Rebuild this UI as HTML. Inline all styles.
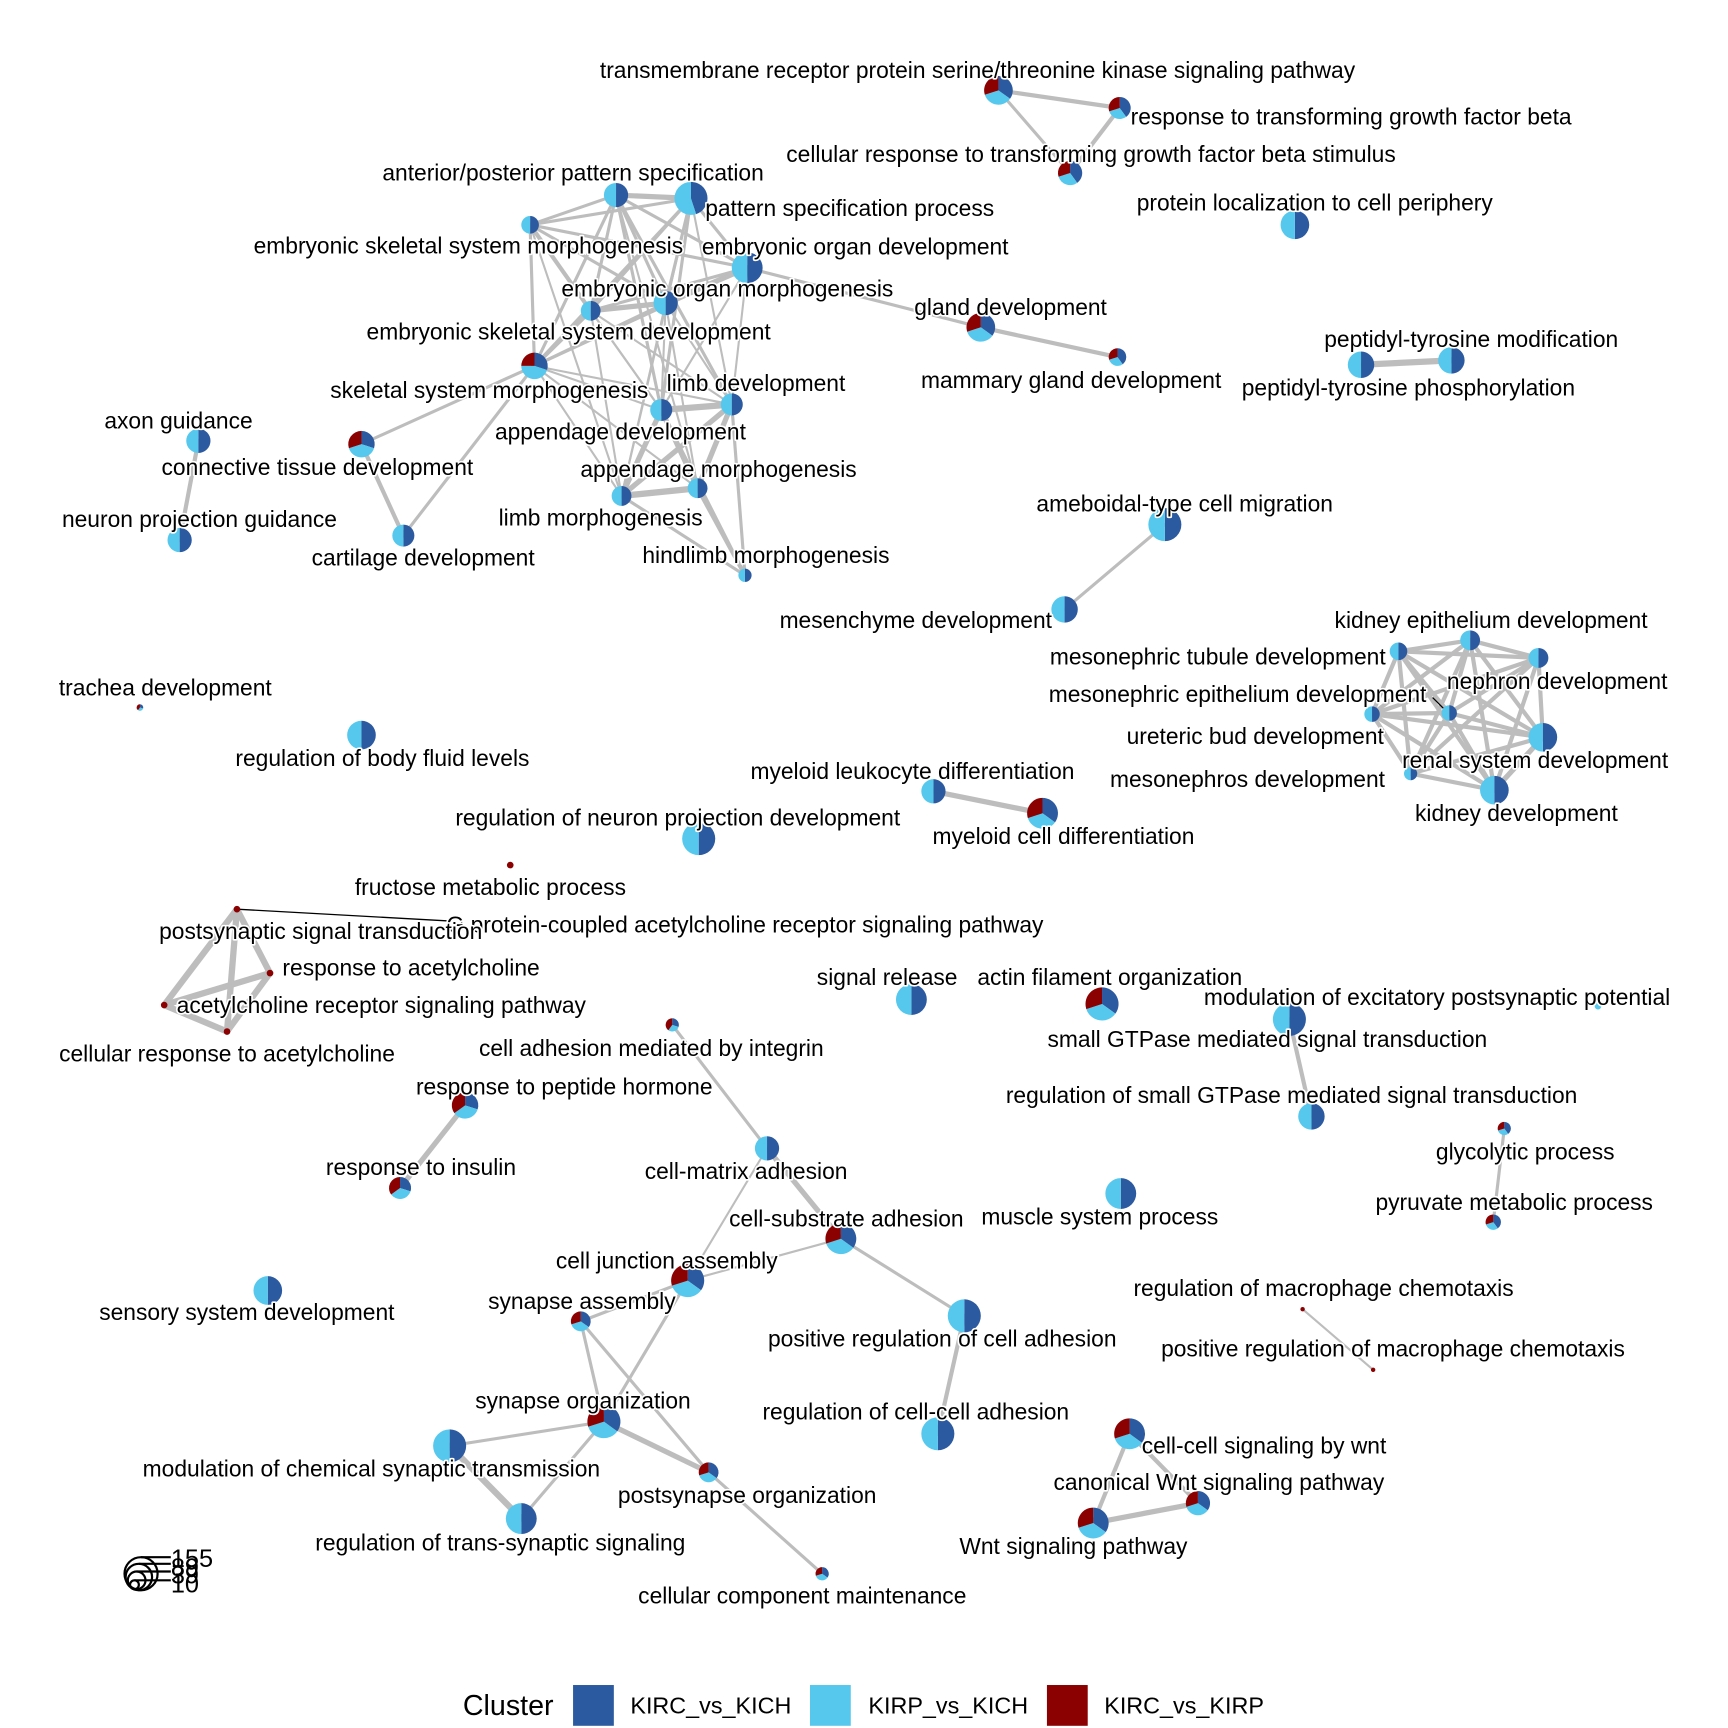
<!DOCTYPE html>
<html><head><meta charset="utf-8"><style>
html,body{margin:0;padding:0;background:#fff;width:1728px;height:1728px;overflow:hidden}
svg text{font-family:"Liberation Sans",sans-serif;font-size:20.7px;fill:#000}
.l{paint-order:stroke;stroke:#fff;stroke-width:3px;stroke-linejoin:round}
</style></head><body>
<svg id="s" width="1728" height="1728" viewBox="0 0 1568 1568" xmlns="http://www.w3.org/2000/svg">
<g id="edges" stroke="#bdbdbd" stroke-linecap="round"></g>
<g id="nodes"></g>
<g id="labels"></g>
<g>
<text x="420" y="1556" style="font-size:26px">Cluster</text>
<rect x="520" y="1529" width="37" height="37" fill="#2C5AA0"/>
<text x="572" y="1555" style="font-size:21.2px">KIRC_vs_KICH</text>
<rect x="735" y="1529" width="37" height="37" fill="#56C8ED"/>
<text x="788" y="1555" style="font-size:21.2px">KIRP_vs_KICH</text>
<rect x="950" y="1529" width="37" height="37" fill="#8B0000"/>
<text x="1002" y="1555" style="font-size:21.2px">KIRC_vs_KIRP</text>
<g fill="none" stroke="#000" stroke-width="2">
<circle cx="128" cy="1428" r="15"/><circle cx="126" cy="1431" r="12"/><circle cx="124" cy="1434" r="8"/><circle cx="122" cy="1438" r="4"/>
<line x1="128" y1="1413" x2="155" y2="1413"/><line x1="126" y1="1419" x2="155" y2="1419"/><line x1="124" y1="1426" x2="155" y2="1426"/><line x1="122" y1="1434" x2="155" y2="1434"/>
</g>
<text x="155" y="1422" style="font-size:23px">155</text>
<text x="155" y="1430" style="font-size:23px">89</text>
<text x="155" y="1437" style="font-size:23px">39</text>
<text x="155" y="1445" style="font-size:23px">10</text>
</g>
</svg>
<script>
var C=["#2C5AA0","#56C8ED","#8B0000"];
var N={
tm:[906,82,13,[.35,.35,.3]],tgf:[1016,98,10,[.4,.3,.3]],ctgf:[971,157,11,[.4,.3,.3]],
plc:[1175,204,13,[.5,.5,0]],ap:[559,177,11,[.5,.5,0]],ps:[627,180,15,[.45,.55,0]],
esm:[481,204,8,[.5,.5,0]],eod:[678,243,14,[.5,.5,0]],eom:[604,275,11,[.5,.5,0]],
esd:[536,282,9,[.5,.5,0]],ssm:[485,332,12,[.3,.45,.25]],ld:[664,367,10,[.5,.5,0]],
ad:[600,372,10,[.5,.5,0]],am:[633,443,9,[.5,.5,0]],lm:[564,450,9,[.5,.5,0]],hm:[676,522,6,[.5,.5,0]],
gd:[890,297,13,[.35,.35,.3]],mgd:[1014,324,8,[.4,.3,.3]],ptm:[1235,331,12,[.5,.5,0]],ptp:[1317,327,12,[.5,.5,0]],
ax:[180,400,11,[.5,.5,0]],npg:[163,490,11,[.5,.5,0]],ctd:[328,403,12,[.3,.4,.3]],cd:[366,486,10,[.5,.5,0]],
amb:[1057,476,15,[.5,.5,0]],mes:[966,553,12,[.5,.5,0]],
ked:[1334,581,9,[.5,.5,0]],mtd:[1269,591,8,[.5,.5,0]],nd:[1396,597,9,[.5,.5,0]],med:[1315,647,7,[.5,.5,0]],
ubd:[1245,648,7,[.5,.5,0]],rsd:[1400,669,13,[.5,.5,0]],mnd:[1280,702,6,[.5,.5,0]],kd:[1356,717,13,[.5,.5,0]],
tra:[127,642,3,[.3,.3,.4]],bfl:[328,667,13,[.5,.5,0]],mld:[847,718,11,[.5,.5,0]],mcd:[946,738,14,[.35,.35,.3]],
rnp:[634,761,15,[.5,.5,0]],fru:[463,785,3,[0,0,1]],
pst:[215,825,3,[0,0,1]],rac:[245,883,3,[0,0,1]],arsp:[149,912,3,[0,0,1]],crac:[206,936,3,[0,0,1]],
sr:[827,907,14,[.5,.5,0]],afo:[1000,911,15,[.35,.35,.3]],sgt:[1170,925,15,[.5,.5,0]],rsg:[1190,1013,12,[.5,.5,0]],
mex:[1450,913,3,[0,1,0]],cai:[610,930,6,[.3,.3,.4]],rph:[422,1003,12,[.3,.35,.35]],ri:[363,1078,10,[.3,.35,.35]],
cma:[696,1042,11,[.5,.5,0]],gly:[1365,1024,6,[.4,.3,.3]],pyr:[1355,1109,7,[.4,.3,.3]],msp:[1017,1083,14,[.5,.5,0]],
csa:[763,1124,14,[.35,.35,.3]],cja:[624,1162,15,[.35,.35,.3]],ssd:[243,1171,13,[.5,.5,0]],sa:[527,1199,9,[.35,.35,.3]],
prca:[875,1194,15,[.5,.5,0]],rmc:[1182,1188,2,[0,0,1]],prmc:[1246,1243,2,[0,0,1]],so:[548,1290,15,[.35,.35,.3]],
rcca:[851,1301,15,[.5,.5,0]],ccw:[1025,1301,14,[.35,.35,.3]],cwnt:[1087,1364,11,[.35,.35,.3]],wnt:[992,1382,14,[.35,.35,.3]],
mcst:[408,1312,15,[.5,.5,0]],pso:[643,1336,9,[.35,.35,.3]],rts:[473,1378,14,[.5,.5,0]],ccm:[746,1428,6,[.35,.35,.3]]
};
var E=[["tm","tgf",4],["tm","ctgf",3],["tgf","ctgf",4],
["ap","ps",5],["ap","esm",3],["ap","eod",3],["ap","eom",3],["ap","esd",3],["ap","ssm",3],["ap","ld",3],["ap","ad",3],["ap","am",2],
["ps","esm",3],["ps","eod",3],["ps","eom",3],["ps","esd",3],["ps","ssm",3],["ps","ld",2],["ps","ad",3],["ps","lm",2],
["esm","esd",4],["esm","ssm",3],["esm","eom",3],["esm","eod",3],["esm","ad",2],["esm","lm",2],
["eod","eom",5],["eod","esd",3],["eod","ssm",3],["eod","ld",2],["eod","ad",2],["eod","gd",3],
["eom","esd",5],["eom","ssm",3],["eom","ld",2],["eom","ad",2],["eom","am",2],["eom","lm",2],
["esd","ssm",4],["esd","ad",2],["esd","ld",2],["esd","lm",2],["ssm","ad",2],["ssm","ld",2],["ssm","lm",2],["ssm","am",2],
["ssm","ctd",3],["ssm","cd",3],["ld","ad",6],["ld","am",5],["ld","lm",5],["ld","hm",3],["ad","am",5],["ad","lm",5],["ad","hm",3],
["am","lm",6],["am","hm",4],["lm","hm",3],["gd","mgd",4],["ptm","ptp",6],["ax","npg",4],["ctd","cd",4],["amb","mes",3],
["ked","mtd",4],["ked","nd",4],["ked","med",4],["ked","ubd",4],["ked","rsd",4],["ked","mnd",4],["ked","kd",4],
["mtd","nd",4],["mtd","med",4],["mtd","ubd",4],["mtd","rsd",4],["mtd","mnd",4],["mtd","kd",4],
["nd","med",4],["nd","ubd",4],["nd","rsd",4],["nd","mnd",4],["nd","kd",4],["med","ubd",4],["med","rsd",4],["med","mnd",4],["med","kd",4],
["ubd","rsd",4],["ubd","mnd",4],["ubd","kd",4],["rsd","mnd",4],["rsd","kd",5],["mnd","kd",4],
["mld","mcd",5],["pst","rac",6],["pst","arsp",6],["pst","crac",6],["rac","arsp",6],["rac","crac",6],["arsp","crac",6],
["sgt","rsg",4],["rph","ri",5],["cai","cma",3],["cma","csa",5],["cma","cja",2],["csa","cja",2],["csa","prca",3],["gly","pyr",3],
["rmc","prmc",2],["cja","sa",3],["cja","so",3],["sa","so",3],["sa","pso",3],["so","mcst",3],["so","rts",3],["so","pso",5],
["mcst","rts",6],["pso","ccm",3],["prca","rcca",4],["ccw","cwnt",4],["ccw","wnt",4],["cwnt","wnt",5]];
var ns="http://www.w3.org/2000/svg";
function el(t,a,p){var e=document.createElementNS(ns,t);for(var k in a)e.setAttribute(k,a[k]);p.appendChild(e);return e;}
var eg=document.getElementById("edges"),ng=document.getElementById("nodes"),lg=document.getElementById("labels");
E.forEach(function(e){var a=N[e[0]],b=N[e[1]];el("line",{x1:a[0],y1:a[1],x2:b[0],y2:b[1],"stroke-width":e[2]*0.95},eg);});
el("line",{x1:215,y1:825,x2:413,y2:836,stroke:"#000","stroke-width":1.2},ng);
el("circle",{cx:413,cy:838,r:6,fill:"none",stroke:"#000","stroke-width":1.2},ng);
el("line",{x1:1300,y1:633,x2:1313,y2:646,stroke:"#000","stroke-width":1.2},ng);
for(var k in N){var n=N[k],x=n[0],y=n[1],r=n[2],f=n[3],a=0;
 for(var i=0;i<3;i++){if(f[i]<=0)continue;
  if(f[i]>=0.999){el("circle",{cx:x,cy:y,r:r,fill:C[i]},ng);continue;}
  var a2=a+f[i]*2*Math.PI;
  var x1=x+r*Math.sin(a),y1=y-r*Math.cos(a),x2=x+r*Math.sin(a2),y2=y-r*Math.cos(a2);
  el("path",{d:"M"+x+","+y+"L"+x1+","+y1+"A"+r+","+r+" 0 "+((a2-a)>Math.PI?1:0)+" 1 "+x2+","+y2+"Z",fill:C[i]},ng);a=a2;}}
var L=[["transmembrane receptor protein serine/threonine kinase signaling pathway",887,71],
["response to transforming growth factor beta",1226,113],["cellular response to transforming growth factor beta stimulus",990,147],
["protein localization to cell periphery",1193,191],["anterior/posterior pattern specification",520,164],["pattern specification process",771,196],
["embryonic skeletal system morphogenesis",425,230],["embryonic organ development",776,231],["embryonic organ morphogenesis",660,269],
["embryonic skeletal system development",516,308],["skeletal system morphogenesis",444,361],["limb development",686,355],
["appendage development",563,399],["appendage morphogenesis",652,433],["limb morphogenesis",545,477],["hindlimb morphogenesis",695,511],
["gland development",917,286],["mammary gland development",972,352],["peptidyl-tyrosine modification",1335,315],["peptidyl-tyrosine phosphorylation",1278,359],
["axon guidance",162,389],["connective tissue development",288,431],["neuron projection guidance",181,478],["cartilage development",384,513],
["ameboidal-type cell migration",1075,464],["mesenchyme development",831,570],["kidney epithelium development",1353,570],
["mesonephric tubule development",1105,603],["nephron development",1413,625],["mesonephric epithelium development",1123,637],
["ureteric bud development",1139,675],["renal system development",1393,697],["mesonephros development",1132,714],["kidney development",1376,745],
["trachea development",150,631],["regulation of body fluid levels",347,695],["myeloid leukocyte differentiation",828,707],
["myeloid cell differentiation",965,766],["regulation of neuron projection development",615,749],["fructose metabolic process",445,812],
["G protein-coupled acetylcholine receptor signaling pathway",676,846],["postsynaptic signal transduction",291,852],
["response to acetylcholine",373,885],["acetylcholine receptor signaling pathway",346,919],["cellular response to acetylcholine",206,963],
["signal release",805,894],["actin filament organization",1007,894],["modulation of excitatory postsynaptic potential",1304,912],
["small GTPase mediated signal transduction",1150,950],["regulation of small GTPase mediated signal transduction",1172,1001],
["cell adhesion mediated by integrin",591,958],["response to peptide hormone",512,993],["response to insulin",382,1066],
["cell-matrix adhesion",677,1070],["glycolytic process",1384,1052],["pyruvate metabolic process",1374,1098],["muscle system process",998,1111],
["cell-substrate adhesion",768,1113],["cell junction assembly",605,1151],["sensory system development",224,1198],["synapse assembly",528,1188],
["positive regulation of cell adhesion",855,1222],["regulation of macrophage chemotaxis",1201,1176],["positive regulation of macrophage chemotaxis",1264,1231],
["synapse organization",529,1278],["regulation of cell-cell adhesion",831,1288],["cell-cell signaling by wnt",1147,1319],
["canonical Wnt signaling pathway",1106,1352],["Wnt signaling pathway",974,1410],["modulation of chemical synaptic transmission",337,1340],
["postsynapse organization",678,1364],["regulation of trans-synaptic signaling",454,1407],["cellular component maintenance",728,1455]];
L.forEach(function(l){var t=el("text",{x:l[1],y:l[2],"text-anchor":"middle","class":"l"},lg);t.textContent=l[0];});
</script>
</body></html>
